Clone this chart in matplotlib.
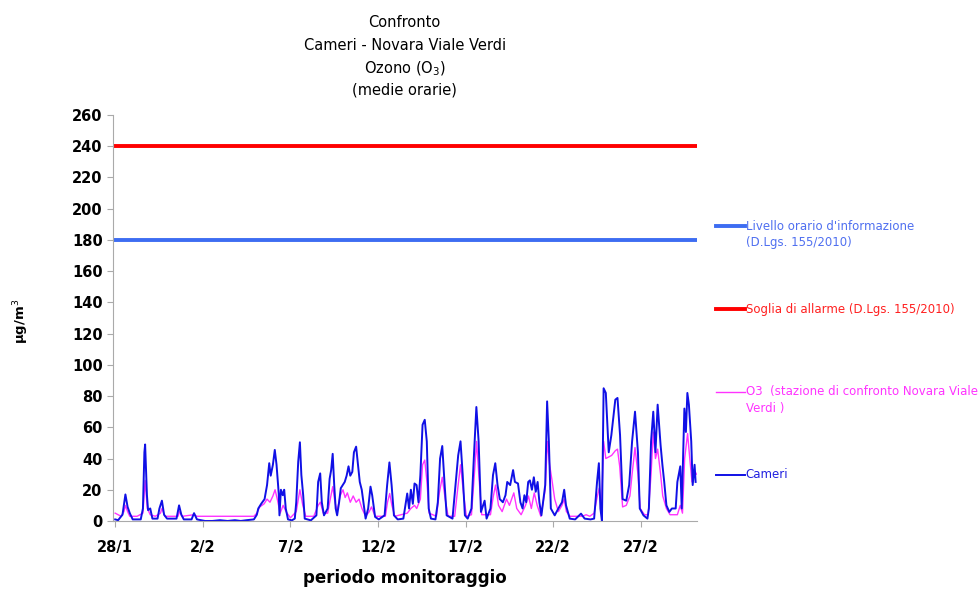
import matplotlib
matplotlib.use("Agg")
import matplotlib.pyplot as plt

# ore dall'inizio del monitoraggio (28/1 ore 0) e valori di O3 in ug/m3
cameri_ore = [0, 4, 10, 14, 17, 20, 24, 35, 38, 40, 41, 43.5, 45, 48, 51, 58, 60.6, 64, 67, 71,
              84, 87.5, 90.6, 94, 104.6, 108, 112, 123, 133, 143.5, 154, 164, 172, 180, 190, 194,
              196, 200, 204.6, 208, 211, 213, 216, 218.6, 221, 224, 225, 227, 229.5, 231.5, 233.6,
              236.7, 242, 246, 248, 250.7, 253, 255, 257.5, 259.6, 268, 275.6, 278, 280.8, 283, 286,
              291, 293.7, 295.8, 297.9, 300, 302, 304, 306.7, 309, 314.4, 317, 319.6, 322, 324.8,
              327, 330, 332.6, 335, 337.7, 340, 343, 346.5, 349.7, 352, 356, 361, 369, 372.5, 375.6,
              378.6, 381.8, 387, 394.7, 400, 402.5, 405, 407.7, 410, 412.8, 415.4, 418, 421, 424,
              426.8, 429.4, 432.5, 438.7, 441.9, 445, 448, 451, 454, 462, 467, 469.8, 473, 476, 479,
              482.8, 488, 491.6, 494.7, 497.8, 501, 506, 508.7, 514, 517.5, 520.6, 523.7, 526.8, 531,
              534.6, 537, 541, 545, 547.5, 551.7, 555, 558, 560.5, 563, 565.7, 568, 570.8, 573.4, 576,
              578.6, 581, 583.8, 589, 591.6, 594, 596.7, 602, 607, 612, 615, 617.5, 622.6, 630, 638,
              643, 651, 656, 660, 662.5, 664.6, 666.7, 669, 672, 676, 679.6, 685, 688, 691.5, 695,
              700, 704, 708, 712, 716, 718.5, 723.6, 729, 731, 734, 737, 740, 743, 747, 749.5, 752,
              755, 759, 762.5, 767.7, 770, 774, 776, 779.6, 781.7, 783.7, 785.8, 789, 791, 793.6, 795]
cameri_val = [1, 0.5, 4, 17, 9, 5, 1, 1, 8, 44, 49, 16.5, 7, 8, 1.5, 1.5, 8, 13, 4, 1.5,
              1.5, 10, 4, 1, 1, 5, 1, 0, 0, 0.5, 0, 0.5, 0, 0.5, 1, 4,
              8, 11, 14, 23, 37, 29, 36, 45.5, 36, 17.6, 3.6, 20, 16.5, 20, 8,
              1, 0.4, 1.5, 12, 38, 50.4, 29.4, 16.5, 1.5, 0.4, 3.6, 25, 30.5, 12, 3.6,
              8, 27, 32.6, 43, 23, 8, 3.6, 12, 21, 25, 29, 35, 29, 31.5,
              44, 47.6, 36, 25, 20, 12, 1.5, 8, 22, 16.5, 2.6, 1, 3.6, 23, 37.5,
              23, 3.6, 1, 1.5, 17.6, 8, 20, 11, 24, 23, 12, 29.4, 61.6, 64.8,
              51, 8, 1.5, 1, 12, 40, 48, 25, 3.6, 1.5, 27, 42, 51, 29.4, 3.6,
              1.5, 8, 44, 73, 51, 5.8, 13, 1.5, 8, 29.4, 37, 23, 14, 12,
              16.5, 25, 23, 32.6, 25, 24, 12, 8, 16.5, 12, 25, 26, 20, 28, 18.7,
              25, 12, 3.6, 23, 76.6, 51, 8, 3.6, 8, 12, 20, 10, 1.5, 1, 4.7,
              1.5, 1, 1.5, 25, 37, 8, 0, 85, 82, 44, 55, 77.7, 78.8, 55, 14,
              13, 23, 51, 70, 44, 8, 3.6, 1.5, 8, 51, 70, 44, 74.5, 48.7, 36, 25,
              10, 5.8, 8, 8, 25, 35, 8, 72, 57, 82, 74.5, 51, 23, 36, 25]

novara_ore = [0, 4, 8, 12, 14, 17, 20, 30, 38, 41, 44, 48, 55, 62, 64, 68, 86, 88, 92, 108, 112,
              190, 194, 198, 204, 208, 212, 216, 219, 222, 226, 230, 234, 240, 248, 253, 257, 261,
              272, 278, 281, 285, 291, 295, 298, 301, 304, 308, 312, 315, 318, 322, 326, 330, 334,
              338, 343, 348, 351, 356, 370, 373, 376, 379, 383, 400, 405, 410, 413, 418, 421, 424,
              427, 430, 440, 444, 448, 452, 456, 465, 469, 473, 477, 481, 488, 492, 495, 498, 502,
              514, 518, 521, 525, 530, 536, 540, 546, 550, 556, 562, 566, 570, 574, 578, 583, 589,
              592, 595, 598, 602, 607, 612, 615, 618, 623, 640, 645, 650, 656, 660, 663, 666, 669,
              672, 676, 680, 685, 688, 691, 695, 700, 705, 708, 712, 716, 719, 725, 730, 734, 737,
              740, 743, 747, 750, 755, 760, 770, 774, 777, 780, 784, 787, 790, 794, 796]
novara_val = [5, 4, 3, 6, 10, 6, 3, 3, 5, 26, 8, 4, 3, 5, 8, 3, 3, 6, 3, 4, 3,
              3, 5, 9, 11, 14, 12, 16, 20, 14, 5, 10, 6, 2, 6, 20, 10, 3,
              3, 10, 12, 5, 5, 15, 22, 12, 6, 16, 20, 15, 18, 12, 16, 12, 14,
              8, 3, 6, 9, 3, 3, 12, 17.6, 10, 3, 5, 8, 10, 8, 14, 36, 39,
              25, 5, 3, 18, 28, 14, 3, 3, 20, 36, 18, 3, 4, 30, 51, 30, 4,
              4, 16, 23, 10, 6, 14, 10, 18, 8, 4, 10, 16, 8, 18, 10, 3, 20,
              51, 36, 27, 14, 6, 10, 14, 6, 3, 3, 4, 3, 5, 15, 21, 6, 51,
              40, 41, 42, 45, 46, 35, 9, 10, 16, 30, 47, 30, 8, 4, 4, 30, 57,
              40, 46, 30, 16, 8, 4, 4, 10, 5, 40, 56, 40, 25, 32, 30]

soglia_allarme = 240
livello_informazione = 180

tick_ore = [0, 120, 240, 360, 480, 600, 720]
tick_etichette = ["28/1", "2/2", "7/2", "12/2", "17/2", "22/2", "27/2"]

fig = plt.figure(figsize=(9.8, 5.9), dpi=100)
ax = fig.add_axes([0.1153, 0.117, 0.596, 0.688])

ax.axhline(soglia_allarme, color="#ff0000", lw=2.8)
ax.axhline(livello_informazione, color="#3d6df2", lw=2.8)
ax.plot(novara_ore, novara_val, color="#ff33ff", lw=1.0)
ax.plot(cameri_ore, cameri_val, color="#1010e6", lw=1.4)

ax.set_xlim(-3, 797)
ax.set_ylim(0, 260)
ax.set_yticks(range(0, 261, 20))
ax.set_xticks(tick_ore)
ax.set_xticklabels(tick_etichette)
for s in ["top", "right"]:
    ax.spines[s].set_visible(False)
for s in ["left", "bottom"]:
    ax.spines[s].set_color("#aaaaaa")
ax.tick_params(axis="both", colors="#aaaaaa", labelcolor="black", length=4, width=0.8)
ax.tick_params(axis="x", pad=10)
for lab in ax.get_xticklabels() + ax.get_yticklabels():
    lab.set_fontweight("bold")
    lab.set_fontsize(10.5)

# titolo
fig.text(0.413, 0.962, "Confronto", ha="center", va="center", fontsize=10.5)
fig.text(0.413, 0.923, "Cameri - Novara Viale Verdi", ha="center", va="center", fontsize=10.5)
fig.text(0.413, 0.884, "Ozono (O$_3$)", ha="center", va="center", fontsize=10.5)
fig.text(0.413, 0.847, "(medie orarie)", ha="center", va="center", fontsize=10.5)

fig.text(0.022, 0.455, "µg/m$^3$", rotation=90, ha="center", va="center",
         fontsize=9.5, fontweight="bold")
fig.text(0.413, 0.02, "periodo monitoraggio", ha="center", va="center",
         fontsize=12, fontweight="bold")

# legenda a destra
def voce(y, colore, spessore, righe, colore_testo):
    yf = 1 - y / 590
    fig.add_artist(plt.Line2D([0.731, 0.76], [yf, yf], color=colore, lw=spessore,
                              transform=fig.transFigure))
    for i, r in enumerate(righe):
        fig.text(0.761, yf - i * 0.028, r, color=colore_testo, fontsize=8.5,
                 ha="left", va="center")

voce(226, "#3d6df2", 2.8, ["Livello orario d'informazione", "(D.Lgs. 155/2010)"], "#4f6ff0")
voce(309, "#ff0000", 2.8, ["Soglia di allarme (D.Lgs. 155/2010)"], "#ff2020")
voce(392, "#ff33ff", 1.0, ["O3  (stazione di confronto Novara Viale", "Verdi )"], "#ff33ff")
voce(475, "#1010e6", 1.4, ["Cameri"], "#2020e0")

fig.savefig("out.png", dpi=100)
